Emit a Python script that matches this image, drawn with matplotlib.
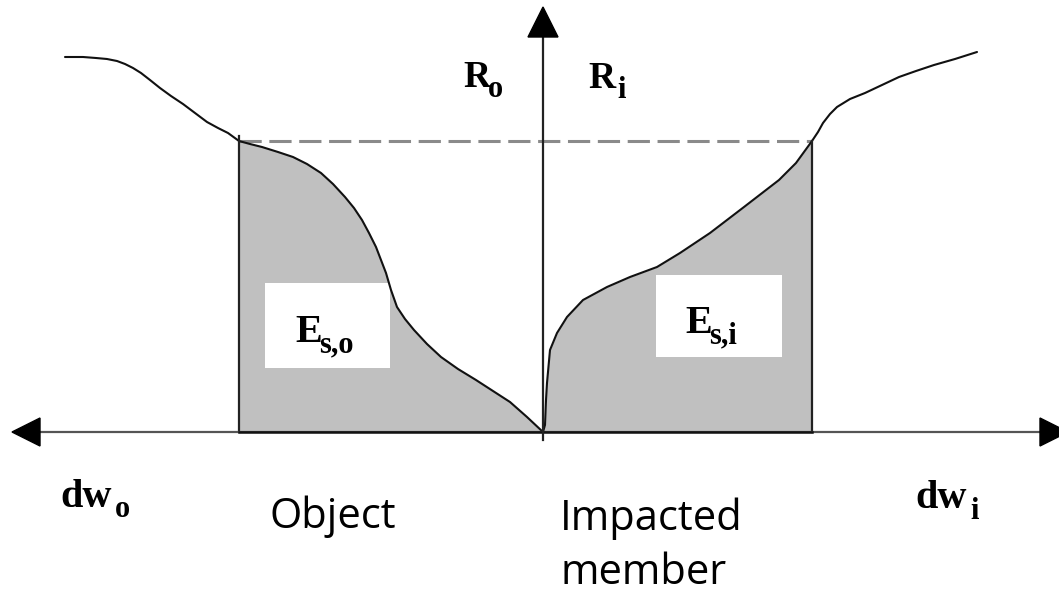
import matplotlib
matplotlib.use("Agg")
import matplotlib.pyplot as plt
from matplotlib.patches import Polygon, Rectangle

plt.rcParams['lines.scale_dashes'] = False

# ---- data: resistance curves (displacement, resistance), origin at axes crossing ----
# Object side (displacement drawn to the left, negative x)
obj_dw = [-478, -460, -447, -436, -426, -418, -410, -402, -393, -383, -372, -360,
          -348, -336, -325, -315, -304, -293, -281, -265, -250, -236, -222, -210,
          -198, -189, -181, -174, -167, -162, -157, -152, -146, -138, -129, -116,
          -102, -85, -67, -50, -33, -16, 0]
obj_R = [375, 375, 374, 373, 371, 368, 364, 359, 352, 344, 336, 328,
         319, 310, 304, 299, 291, 288, 285, 280, 275, 268, 259, 248,
         235, 224, 212, 199, 185, 172, 159, 142, 125, 113, 102, 88,
         75, 63, 52, 41, 30, 15, 0]

# Impacted member side (displacement to the right)
imp_dw = [0, 2, 3, 4, 7, 14, 24, 40, 64, 87, 114, 137, 167, 201, 236, 253, 269,
          275, 280, 287, 294, 307, 322, 339, 356, 373, 391, 412, 434]
imp_R = [0, 7, 32, 49, 82, 99, 115, 132, 145, 155, 165, 179, 199, 225, 252, 269, 291,
         300, 309, 318, 325, 333, 339, 347, 355, 361, 367, 373, 380]

dw_limit_o = -304   # displacement limit of object
dw_limit_i = 269    # displacement limit of impacted member
R_level = 291       # common resistance level (dashed)

box_o = (-278, 64, 125, 85)   # x, y, w, h
box_i = (113, 75, 126, 82)

xlim = (-543, 516)
ylim = (-162, 432)

serif = ['Liberation Serif', 'DejaVu Serif']
sans = ['Open Sans', 'DejaVu Sans']

fig = plt.figure(figsize=(10.59, 5.94), dpi=100)
ax = fig.add_axes([0, 0, 1, 1])
ax.set_xlim(*xlim)
ax.set_ylim(*ylim)
ax.axis('off')

# shaded energy areas
ox = [x for x in obj_dw if x >= dw_limit_o]
oy = [y for x, y in zip(obj_dw, obj_R) if x >= dw_limit_o]
ax.fill_between(ox, 0, oy, color='#c0c0c0', lw=0, zorder=1)
ix = [x for x in imp_dw if x <= dw_limit_i]
iy = [y for x, y in zip(imp_dw, imp_R) if x <= dw_limit_i]
ax.fill_between(ix, 0, iy, color='#c0c0c0', lw=0, zorder=1)

# white label boxes
for b in (box_o, box_i):
    ax.add_patch(Rectangle((b[0], b[1]), b[2], b[3], facecolor='white',
                           edgecolor='none', zorder=2))

# dashed level line
ax.plot([dw_limit_o, dw_limit_i], [R_level, R_level], color='#8a8a8a', lw=2.2,
        dashes=(16, 5.5), zorder=2.5)

# curves
ax.plot(obj_dw, obj_R, color='#111111', lw=1.5, zorder=3,
        solid_capstyle='round', solid_joinstyle='round')
ax.plot(imp_dw, imp_R, color='#111111', lw=1.5, zorder=3,
        solid_capstyle='round', solid_joinstyle='round')

# vertical limit lines
ax.plot([dw_limit_o, dw_limit_o], [0, R_level + 5], color='#222222', lw=1.6, zorder=3)
ax.plot([dw_limit_i, dw_limit_i], [0, R_level], color='#222222', lw=1.6, zorder=3)

# axes
ax.plot([-505, 500], [0, 0], color='#555555', lw=1.6, zorder=3)
ax.plot([dw_limit_o, dw_limit_i], [0, 0], color='#111111', lw=1.8, zorder=3.1)
ax.plot([0, 0], [-8, 397], color='#222222', lw=1.6, zorder=3.2)

# arrowheads
ax.add_patch(Polygon([[-531, 0], [-503, 14], [-503, -14]], closed=True,
                     color='black', zorder=4))
ax.add_patch(Polygon([[525, 0], [497, 14], [497, -14]], closed=True,
                     color='black', zorder=4))
ax.add_patch(Polygon([[0, 425], [-15, 395], [15, 395]], closed=True,
                     color='black', zorder=4))

# labels (serif bold with subscripts)
def label(x, y, base, sub, dx, dy, size, subsize):
    ax.text(x, y, base, family=serif, weight='bold', fontsize=size,
            ha='left', va='baseline', zorder=5)
    ax.text(x + dx, y + dy, sub, family=serif, weight='bold', fontsize=subsize,
            ha='left', va='baseline', zorder=5)

label(-80, 345, 'R', 'o', 25, -10, 27, 22)
label(45, 344, 'R', 'i', 29, -10, 27, 22)
label(-248, 90, 'E', 's,o', 24, -10, 29, 22)
label(142, 99, 'E', 's,i', 24, -10, 29, 22)
label(-483, -75, 'dw', 'o', 55, -10, 29, 22)
label(372, -76, 'dw', 'i', 55, -11, 29, 22)

ax.text(-274, -96, 'Object', family=sans, fontsize=30, ha='left', va='baseline')
ax.text(17, -98, 'Impacted', family=sans, fontsize=30, ha='left', va='baseline')
ax.text(17, -152, 'member', family=sans, fontsize=30, ha='left', va='baseline')

fig.savefig('out.png', dpi=100, facecolor='white')
